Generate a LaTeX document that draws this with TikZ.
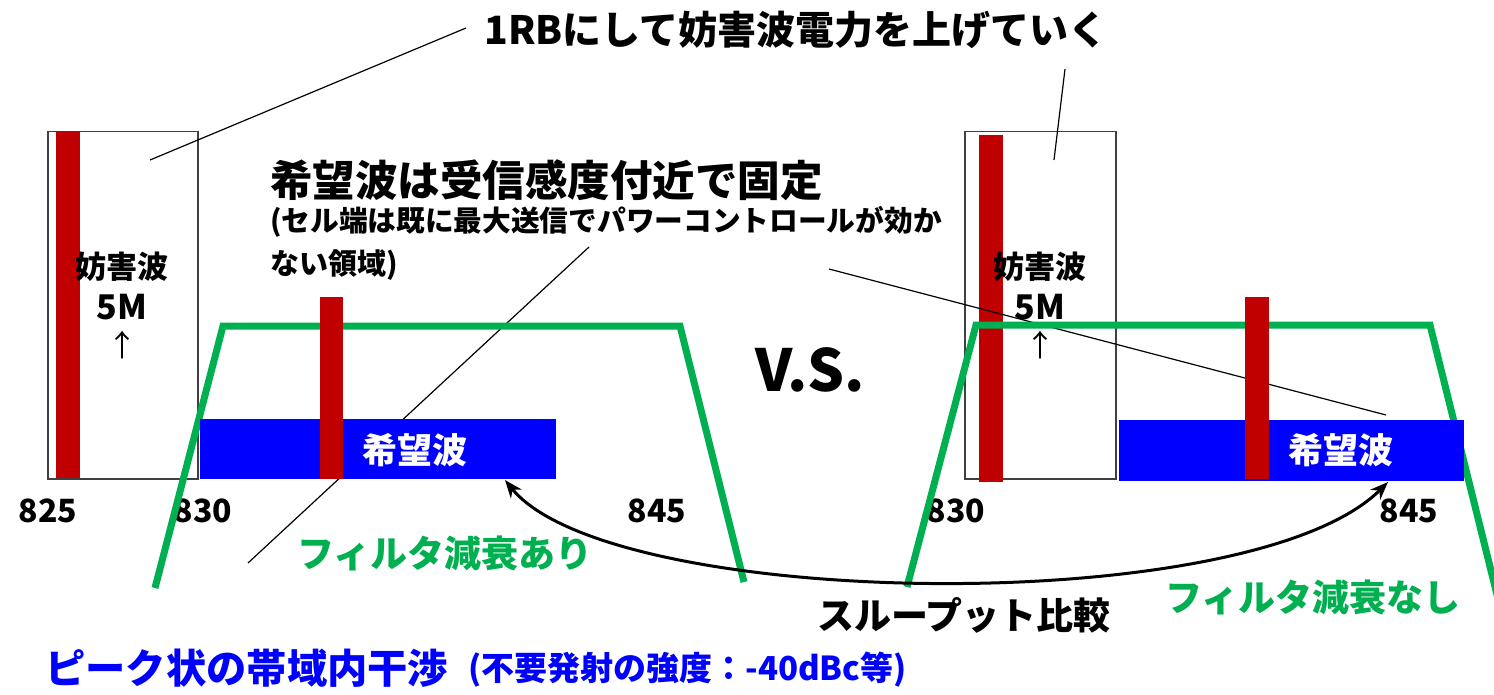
\documentclass[tikz,border=0pt]{standalone}
\usepackage{fontspec}
\setmainfont{Noto Sans CJK JP}
\usetikzlibrary{arrows.meta}
\definecolor{rb}{HTML}{C00000}
\definecolor{gb}{HTML}{00B050}
\definecolor{bb}{HTML}{0000FF}
\tikzset{
  redbar/.style={fill=rb,draw=none},
  bluebar/.style={fill=bb,draw=none},
  filt/.style={draw=gb,line width=7pt,line join=miter},
  lead/.style={draw=black,line width=1.2pt},
  boxo/.style={draw=black!75,line width=1.5pt,inner sep=0pt,anchor=north west},
  txt/.style={inner sep=0pt,font=\bfseries},
  fs/.style={font=\fontsize{#1}{#1}\selectfont\bfseries},
}
\begin{document}
\begin{tikzpicture}[x=1pt,y=-1pt]
\useasboundingbox (0,0) rectangle (1494,695);
\fill[white] (0,0) rectangle (1494,695);

% interferer boxes
\node[boxo,minimum width=150pt,minimum height=347pt] (boxL) at (47,131) {};
\node[boxo,minimum width=151pt,minimum height=347pt] (boxR) at (964,131) {};

% interferer bars
\fill[redbar] (56,131) rectangle (80,478);
\fill[redbar] (979,135) rectangle (1003,482);

% texts
\node[txt,fs=39] (title) at (796,30) {1RBにして妨害波電力を上げていく};
\node[txt,fs=42.5,anchor=west] (fixed) at (270,180) {希望波は受信感度付近で固定};
\node[txt,fs=28.7,anchor=west] (note1) at (270,222) {(セル端は既に最大送信でパワーコントロールが効か};
\node[txt,fs=29,anchor=west] (note2) at (270,265) {ない領域)};

\node[txt,fs=31] (ifL) at (122,267) {妨害波};
\node[txt,fs=34] (ifLm) at (122,307) {5M};
\node[inner sep=0pt,font=\fontsize{30}{30}\selectfont] (ifLa) at (122,345) {↑};
\node[txt,fs=31] (ifR) at (1040,267) {妨害波};
\node[txt,fs=34] (ifRm) at (1040,307) {5M};
\node[inner sep=0pt,font=\fontsize{30}{30}\selectfont] (ifRa) at (1040,345) {↑};

\node[txt,fs=32] (f825) at (48,511) {825};
\node[txt,fs=32] (f830L) at (203,511) {830};
\node[txt,fs=32] (f845L) at (657,511) {845};
\node[txt,fs=32] (f830R) at (956,511) {830};
\node[txt,fs=32] (f845R) at (1409,511) {845};

% leader lines
\coordinate (tL) at (466,28);
\coordinate (tLe) at (150,160);
\draw[lead] (tL) -- (tLe);
\coordinate (tR) at (1065,69);
\coordinate (tRe) at (1054,160);
\draw[lead] (tR) -- (tRe);
\coordinate (fA) at (589,247);
\coordinate (fAe) at (248,563);
\draw[lead] (fA) -- (fAe);
\coordinate (fB) at (829,269);
\coordinate (fBe) at (1386,415);
\draw[lead] (fB) -- (fBe);

% filters
\draw[filt] (155,588) -- (223,326) -- (680,326) -- (744,582);
\begin{scope}
\clip (0,0) rectangle (1494,695);
\draw[filt] (907,587) -- (976,325) -- (1430,325) -- (1502,615);
\end{scope}

% desired signal
\fill[bluebar] (200,419) rectangle (556,479);
\fill[bluebar] (1119,420) rectangle (1464,481);
\fill[redbar] (320,297) rectangle (343,479);
\fill[redbar] (1245,297) rectangle (1269,479);
\node[txt,fs=35,text=white] (dL) at (415,450) {希望波};
\node[txt,fs=35,text=white] (dR) at (1341,450) {希望波};

\node[txt,fs=37,text=gb] (attA) at (445,553) {フィルタ減衰あり};
\node[txt,fs=37,text=gb] (attN) at (1313,597) {フィルタ減衰なし};
\node[txt,fs=58] (vs) at (810,370) {V.S.};

% comparison arrow
\coordinate (cL) at (505,480);
\coordinate (cR) at (1388,482);
\draw[line width=3pt,{Stealth[length=18pt,width=14pt]}-{Stealth[length=18pt,width=14pt]}]
  (cL) .. controls (610,610) and (1250,620) .. (cR);
\node[txt,fs=37] (cmp) at (964,615) {スループット比較};

\node[txt,fs=40.3,text=bb,anchor=west] (peak) at (45,668) {ピーク状の帯域内干渉};
\node[txt,fs=33,text=bb,anchor=west] (peak2) at (468,670) {(不要発射の強度：-40dBc等)};
\end{tikzpicture}
\end{document}
